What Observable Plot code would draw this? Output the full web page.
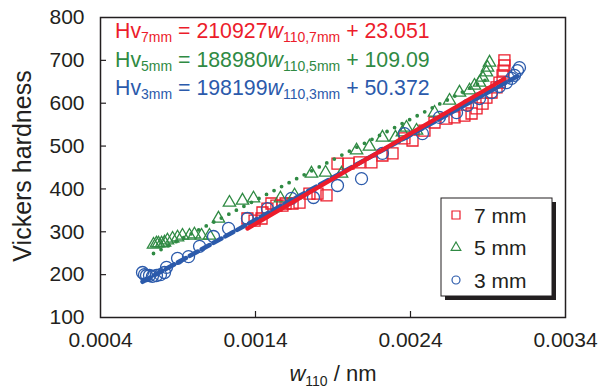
<!DOCTYPE html>
<html><head><meta charset="utf-8">
<script src="https://cdn.jsdelivr.net/npm/d3@7"></script>
<script src="https://cdn.jsdelivr.net/npm/@observablehq/plot@0.6"></script>
<style>
body{margin:0;background:#fff;}
#chart{width:598px;height:388px;}
svg text{white-space:pre;}
</style></head><body><div id="chart"></div>
<script>
// ---- data ----
const w110_7mm = [0.001348,0.001394,0.001439,0.001445,0.001477,0.001503,0.001535,0.001574,0.001594,0.001639,0.001684,0.001748,0.0018,0.001858,0.001929,0.0020,0.002071,0.002148,0.002219,0.002284,0.002361,0.002413,0.00249,0.002555,0.002632,0.002684,0.002748,0.002794,0.002826,0.002865,0.00289,0.002923,0.002955,0.002974,0.002994,0.003,0.003006,0.003006];
const hv_7mm   = [331,326,331,345,354,366,361,361,366,366,368,389,389,385,459,459,462,462,478,483,518,513,536,555,564,567,571,576,588,599,613,625,637,648,665,676,688,700];
const w110_5mm = [0.000742,0.000761,0.000774,0.000794,0.000813,0.000832,0.000865,0.000897,0.000929,0.000974,0.001006,0.001052,0.001103,0.001161,0.001232,0.001316,0.001387,0.001561,0.001652,0.001761,0.001852,0.001955,0.002052,0.002135,0.002219,0.002303,0.002348,0.002374,0.002439,0.002555,0.002652,0.002716,0.002781,0.002813,0.002845,0.002865,0.00289,0.002897,0.00291];
const hv_5mm   = [270,273,273,273,275,280,284,287,291,291,294,291,291,331,368,373,378,378,385,436,438,436,490,499,520,520,532,543,536,578,606,625,630,641,648,660,672,683,695];
const w110_3mm = [0.000671,0.000684,0.000697,0.000716,0.000735,0.000761,0.000787,0.000813,0.000826,0.000897,0.000968,0.001039,0.001129,0.001226,0.001348,0.001477,0.001632,0.001774,0.001929,0.002084,0.002219,0.002361,0.002477,0.002587,0.002697,0.002768,0.002845,0.002923,0.002974,0.003019,0.003052,0.003071,0.00309,0.003103];
const hv_3mm   = [205,200,198,198,196,198,200,205,217,238,242,266,289,308,331,354,378,380,408,424,483,529,529,567,578,595,611,625,639,648,658,665,676,683];

const seriesNames = ["7 mm","5 mm","3 mm"];
const seriesKeys  = ["7mm","5mm","3mm"];
const slopes      = [210927,188980,198199];
const intercepts  = [23.051,109.09,50.372];
const slopeLabels = ["210927","188980","198199"];
const interceptLabels = ["23.051","109.09","50.372"];
const xTicks = [0.0004,0.0014,0.0024,0.0034];
const yTicks = [100,200,300,400,500,600,700,800];

const COLORS = ["#ec1c2b","#2f8a43","#2b5aab"];
const INK = "#231f20";
const FONT = "'Liberation Sans', Arial, sans-serif";

const W = 598, H = 388, ML = 100, MR = 33, MT = 17, MB = 71;
const innerW = W - ML - MR, innerH = H - MT - MB;
const TICK = 6;

const xs = [w110_7mm,w110_5mm,w110_3mm];
const ys = [hv_7mm,hv_5mm,hv_3mm];
const pts = xs.map((xa,s)=>xa.map((x,i)=>({x,y:ys[s][i]})));
const fitLines = xs.map((xa,s)=>{
  const lo=d3.min(xa), hi=d3.max(xa);
  return [lo,hi].map(x=>({x,y:slopes[s]*x+intercepts[s]}));
});

const plot = Plot.plot({
  width:W,height:H,
  marginLeft:ML,marginRight:MR,marginTop:MT,marginBottom:MB,
  style:{fontFamily:FONT,fontSize:"21px",color:INK,background:"white",overflow:"visible"},
  x:{domain:[0.0004,0.0034]},
  y:{domain:[100,800]},
  marks:[
    Plot.dot(pts[0],{x:"x",y:"y",symbol:"square",r:6.2,stroke:COLORS[0],strokeWidth:1.3}),
    Plot.dot(pts[1],{x:"x",y:"y",symbol:"triangle",r:4.6,stroke:COLORS[1],strokeWidth:1.3}),
    Plot.dot(pts[2],{x:"x",y:"y",symbol:"circle",r:6,stroke:COLORS[2],strokeWidth:1.3}),
    Plot.line(fitLines[1],{x:"x",y:"y",stroke:COLORS[1],strokeWidth:3.8,strokeDasharray:"0,8.5",strokeLinecap:"round"}),
    Plot.line(fitLines[2],{x:"x",y:"y",stroke:COLORS[2],strokeWidth:4.5,strokeDasharray:"9,4.5"}),
    Plot.line(fitLines[0],{x:"x",y:"y",stroke:COLORS[0],strokeWidth:4.2}),
    // inward ticks
    Plot.tickY(yTicks.slice(1,-1),{y:d=>d,insetRight:innerW-TICK,stroke:INK,strokeWidth:1.2}),
    Plot.tickX(xTicks.slice(1,-1),{x:d=>d,insetTop:innerH-TICK,stroke:INK,strokeWidth:1.2}),
    Plot.frame({stroke:INK,strokeWidth:1.5}),
    Plot.axisY(yTicks,{tickSize:0,tickPadding:16,label:null,fill:INK,fontSize:21}),
    Plot.axisX(xTicks,{tickSize:0,tickPadding:15,label:null,fill:INK,fontSize:21,tickFormat:d3.format(".4f")})
  ]
});
document.getElementById("chart").appendChild(plot);

const svg = d3.select(plot);
// axis titles
svg.append("text").attr("transform","translate(22,166) rotate(-90)")
  .attr("text-anchor","middle").attr("dominant-baseline","central")
  .attr("font-family",FONT).attr("font-size",25).attr("fill",INK).text("Vickers hardness");
const xl = svg.append("text").attr("x",333).attr("y",381).attr("text-anchor","middle")
  .attr("font-family",FONT).attr("font-size",22).attr("fill",INK);
xl.append("tspan").attr("font-style","italic").text("w");
xl.append("tspan").attr("font-size",14).attr("dy",5).text("110");
xl.append("tspan").attr("dy",-5).text(" / nm");

// equations
seriesKeys.forEach((k,s)=>{
  const t = svg.append("text").attr("x",115).attr("y",38+s*28.5).attr("text-anchor","start")
    .attr("font-family",FONT).attr("font-size",21.3).attr("fill",COLORS[s]);
  t.append("tspan").text("Hv");
  t.append("tspan").attr("font-size",14).attr("dy",4).text(k);
  t.append("tspan").attr("dy",-4).text(" = "+slopeLabels[s]);
  t.append("tspan").attr("font-style","italic").text("w");
  t.append("tspan").attr("font-size",14).attr("dy",4).text("110,"+k);
  t.append("tspan").attr("dy",-4).text(" + "+interceptLabels[s]);
});

// legend
const lg = svg.append("g");
lg.append("rect").attr("x",445).attr("y",202).attr("width",111).attr("height",98).attr("fill",INK);
lg.append("rect").attr("x",441).attr("y",198).attr("width",111).attr("height",98).attr("fill","white").attr("stroke",INK).attr("stroke-width",1);
seriesNames.forEach((n,s)=>{
  const cy = 215+s*32.5;
  lg.append("path").attr("transform",`translate(456,${cy})`)
    .attr("d",d3.symbol(s===0?d3.symbolSquare:s===1?d3.symbolTriangle:d3.symbolCircle, s===0?64:s===1?40:50)())
    .attr("fill","none").attr("stroke",COLORS[s]).attr("stroke-width",1.2);
  lg.append("text").attr("x",474).attr("y",cy).attr("text-anchor","start").attr("dominant-baseline","central")
    .attr("font-family",FONT).attr("font-size",21).attr("fill",INK).text(n);
});
</script></body></html>
